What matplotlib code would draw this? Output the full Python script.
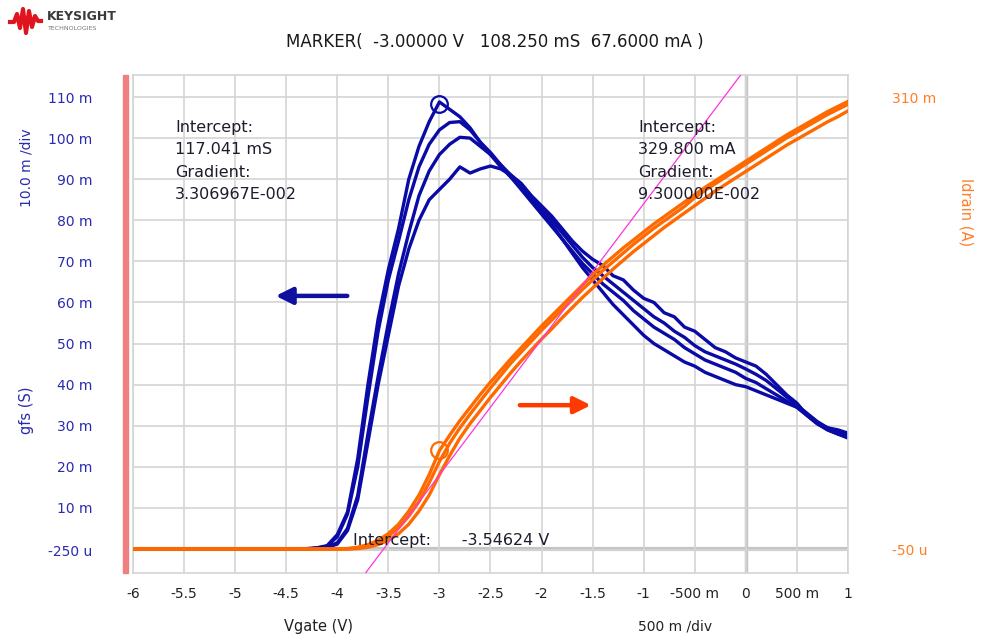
import numpy as np
import matplotlib
matplotlib.use("Agg")
import matplotlib.pyplot as plt
from matplotlib.patches import Rectangle

W, H = 983, 641

# gate voltage sweep (V)
vgate = [-6.0, -5.0, -4.4, -4.3, -4.2, -4.1, -4.0, -3.9, -3.8, -3.7, -3.6, -3.5, -3.4, -3.3, -3.2, -3.1,
         -3.0, -2.9, -2.8, -2.7, -2.6, -2.5, -2.4, -2.3, -2.2, -2.1, -2.0, -1.9, -1.8, -1.7, -1.6, -1.5,
         -1.4, -1.3, -1.2, -1.1, -1.0, -0.9, -0.8, -0.7, -0.6, -0.5, -0.4, -0.3, -0.2, -0.1, 0.0, 0.1,
         0.2, 0.3, 0.4, 0.5, 0.6, 0.7, 0.8, 0.9, 1.0]

# gfs traces (mS)
gfs_a = [0, 0, 0, 0.1, 0.3, 0.8, 3.5, 9, 22, 40, 56, 68, 78, 90, 98, 104,
         108.8, 107, 105.2, 102.5, 99, 96.5, 93.5, 91, 88.5, 85.5, 82, 79, 75.5, 72, 68.5, 65.5,
         62.5, 59.5, 57, 54.5, 52, 50, 48.5, 47, 45.5, 44.5, 43, 42, 41, 40, 39.5, 38.5,
         37.5, 36.5, 35.5, 34.5, 32.5, 30.5, 29, 28, 27]
gfs_b = [0, 0, 0, 0, 0.2, 0.7, 3, 8.5, 20, 37, 53, 65.5, 75, 85, 93, 98.5,
         102, 103.8, 104, 102, 99, 96, 93, 90.5, 87.5, 84.5, 81.5, 78.5, 75.5, 72.5, 69.5, 67,
         64.5, 62.5, 60.5, 58, 56, 54, 52.5, 51, 49, 47.5, 46, 45, 44, 43, 41.5, 40.5,
         39, 37.5, 36, 34.5, 32.5, 30.5, 29, 28, 27.2]
gfs_c = [0, 0, 0, 0, 0.2, 0.5, 1.5, 5, 13, 28, 42, 55, 67, 77, 86, 92,
         96, 98.5, 100.2, 100, 98, 96, 93.5, 90.5, 88, 85, 82.5, 80, 77, 74, 71, 68.5,
         66.5, 64.5, 62.5, 60.5, 58.5, 56.5, 55, 53, 51.5, 49.5, 48, 47, 46, 45, 43.8, 42.5,
         41, 39, 37, 35, 33, 31, 29.5, 28.5, 27.8]
gfs_d = [0, 0, 0, 0, 0.1, 0.4, 1.2, 4.5, 12, 26, 40, 52, 64, 73, 80, 85,
         87.5, 90, 93, 91.5, 92.5, 93.2, 92.5, 91, 89, 86, 83.5, 81, 78, 75, 72.5, 70.5,
         69, 66.5, 65.5, 63, 61, 60, 57.5, 56.5, 54, 53, 51, 49, 48, 46.5, 45.5, 44.5,
         42.5, 40, 37.5, 35.5, 32.5, 30.5, 29.5, 29, 28.2]

# drain current traces (mA)
id_1 = [0, 0, 0, 0, 0, 0, 0, 0.3, 1.2, 3, 6, 10.5, 17, 26, 37, 51,
        67.5, 78, 88, 97, 106, 114.5, 122.5, 130.5, 138, 145.5, 153, 160, 167, 174, 181, 188,
        194.5, 200.5, 206.5, 212, 217.5, 223, 228, 233, 238, 243, 248, 252.5, 257, 261.5, 266, 270.5,
        275, 279.5, 284, 288, 292, 296, 300, 303.5, 307]
id_2 = [0, 0, 0, 0, 0, 0, 0, 0.1, 0.8, 2.3, 4.8, 8.8, 14.5, 22.5, 32.5, 45.5,
        60, 72.5, 83, 92.5, 101.5, 110.5, 119, 127.5, 135, 142.5, 150, 157, 164, 171, 178, 184.5,
        191, 197, 203, 209, 214.5, 220, 225, 230, 235, 241, 246, 250.5, 255, 259.5, 264, 268.5,
        273, 277.5, 282, 286, 290, 294, 298, 301.5, 305]
id_3 = [0, 0, 0, 0, 0, 0, 0, 0, 0.3, 1.2, 3, 6, 10.5, 17, 26, 37,
        51, 64, 76, 86, 95, 104, 112.5, 121, 129, 136.5, 144, 151, 158.5, 165.5, 172.5, 179,
        185.5, 192, 198, 204, 209.5, 215, 220.5, 225.5, 230.5, 235.5, 240.5, 245.5, 250, 254.5, 259, 263.5,
        268, 272.5, 277, 281, 285, 289, 293, 296.5, 300.5]

# regression line on Idrain: Id = intercept + gradient * Vgate
fit_intercept = 0.3298
fit_gradient = 9.3e-2
fit_v = [-3.9, 0.0]

marker_v = -3.0
marker_gfs = 108.25e-3
marker_id = 67.6e-3

x_ticks = [-6, -5.5, -5, -4.5, -4, -3.5, -3, -2.5, -2, -1.5, -1, -0.5, 0, 0.5, 1]
x_labels = ["-6", "-5.5", "-5", "-4.5", "-4", "-3.5", "-3", "-2.5", "-2", "-1.5", "-1",
            "-500 m", "0", "500 m", "1"]
y_ticks = [-0.00025, 0.01, 0.02, 0.03, 0.04, 0.05, 0.06, 0.07, 0.08, 0.09, 0.10, 0.11]
y_labels = ["-250 u", "10 m", "20 m", "30 m", "40 m", "50 m", "60 m", "70 m", "80 m",
            "90 m", "100 m", "110 m"]

BLUE = "#0a0aa6"
ORANGE = "#ff6a00"
GRID = "#d4d4d4"


def fx(px):
    return px / W


def fy(py):
    return 1 - py / H


fig = plt.figure(figsize=(W / 100, H / 100), dpi=100)
ax = fig.add_axes([fx(133), fy(573), fx(848) - fx(133), fy(75) - fy(573)])

y_lo, y_hi = -5.84e-3, 115.36e-3
ax.set_xlim(-6, 1)
ax.set_ylim(y_lo, y_hi)
ax.set_xticks(x_ticks)
ax.set_xticklabels(x_labels)
ax.set_yticks(y_ticks)
ax.set_yticklabels(y_labels)
ax.tick_params(axis="x", length=0, pad=10, labelsize=10, colors="#222222")
ax.tick_params(axis="y", length=0, pad=29, labelsize=10, colors="#2a2ab0")
ax.grid(True, color=GRID, lw=1.2)
ax.axvline(0, color="#c4c4c4", lw=2.5, zorder=0.5)
ax.axhline(0, color="#c4c4c4", lw=3, zorder=0.5)
for s in ax.spines.values():
    s.set_color(GRID)
    s.set_linewidth(1.2)

v = np.array(vgate)
for g in (gfs_d, gfs_c, gfs_b, gfs_a):
    ax.plot(v, np.array(g) * 1e-3, color=BLUE, lw=2.4, solid_joinstyle="round")
ax.plot(marker_v, marker_gfs, "o", ms=12, mfc="none", mec=BLUE, mew=1.6)

# twin axis for drain current (same grid)
scale = 0.310 / 0.110
ax2 = ax.twinx()
ax2.set_ylim(y_lo * scale, y_hi * scale)
ax2.set_yticks([-50e-6, 0.310])
ax2.set_yticklabels(["-50 u", "310 m"])
ax2.tick_params(axis="y", length=0, pad=32, labelsize=10, colors="#ff7f27")
for s in ax2.spines.values():
    s.set_visible(False)
for i_d in (id_3, id_2, id_1):
    ax2.plot(v, np.array(i_d) * 1e-3, color=ORANGE, lw=2.4)
fv = np.array(fit_v)
ax2.plot(fv, fit_intercept + fit_gradient * fv, color="#ff33dd", lw=0.9)
ax2.plot(marker_v, marker_id, "o", ms=12, mfc="none", mec=ORANGE, mew=1.6)

# direction arrows
ax.annotate("", xy=(-4.63, 0.0616), xytext=(-3.875, 0.0616),
            arrowprops=dict(arrowstyle="-|>,head_length=1.0,head_width=0.5", color="#1010a0", lw=3.2))
ax.annotate("", xy=(-1.49, 0.035), xytext=(-2.24, 0.035),
            arrowprops=dict(arrowstyle="-|>,head_length=1.0,head_width=0.5", color="#ff3a00", lw=3.2))

# fit annotations
txt = dict(fontsize=11.5, color="#1c1c2c", va="top", ha="left", linespacing=1.62)
fig.text(fx(175), fy(120), "Intercept:\n117.041 mS\nGradient:\n3.306967E-002", **txt)
fig.text(fx(638), fy(120), "Intercept:\n329.800 mA\nGradient:\n9.300000E-002", **txt)
fig.text(fx(353), fy(540), "Intercept:      -3.54624 V", fontsize=11.5, color="#1c1c2c",
         va="center", ha="left")

# left red bar
fig.patches.append(Rectangle((fx(123), fy(573)), fx(5), fy(75) - fy(573),
                             transform=fig.transFigure, color="#f08080", zorder=3))

# header
fig.text(fx(495), fy(42), "MARKER(  -3.00000 V   108.250 mS  67.6000 mA )", fontsize=12,
         color="#1a1a1a", ha="center", va="center")

# axis captions
fig.text(fx(27), fy(168), "10.0 m /div", rotation=90, fontsize=10, color="#2a2ab0",
         ha="center", va="center")
fig.text(fx(27), fy(410), "gfs (S)", rotation=90, fontsize=10.5, color="#2a2ab0",
         ha="center", va="center")
fig.text(fx(966), fy(212), "Idrain (A)", rotation=270, fontsize=10.5, color="#ff7f27",
         ha="center", va="center")
fig.text(fx(318), fy(627), "Vgate (V)", fontsize=10.5, color="#222222", ha="center", va="center")
fig.text(fx(675), fy(627), "500 m /div", fontsize=10, color="#222222", ha="center", va="center")

# logo
logo_x = [10, 14, 17, 20, 23, 26, 29, 32, 35, 38, 41]
logo_y = [22, 22, 14, 28, 9, 33, 11, 27, 16, 21, 21]
lax = fig.add_axes([0, 0, 1, 1], zorder=-1)
lax.set_xlim(0, W)
lax.set_ylim(H, 0)
lax.axis("off")
lax.plot(logo_x, logo_y, color="#e0141e", lw=3, solid_joinstyle="round")
fig.text(fx(47), fy(16), "KEYSIGHT", fontsize=9, fontweight="bold", color="#3a3a3a",
         ha="left", va="center")
fig.text(fx(48), fy(28), "TECHNOLOGIES", fontsize=4.5, color="#777777", ha="left", va="center")

fig.savefig("out.png", dpi=100)
